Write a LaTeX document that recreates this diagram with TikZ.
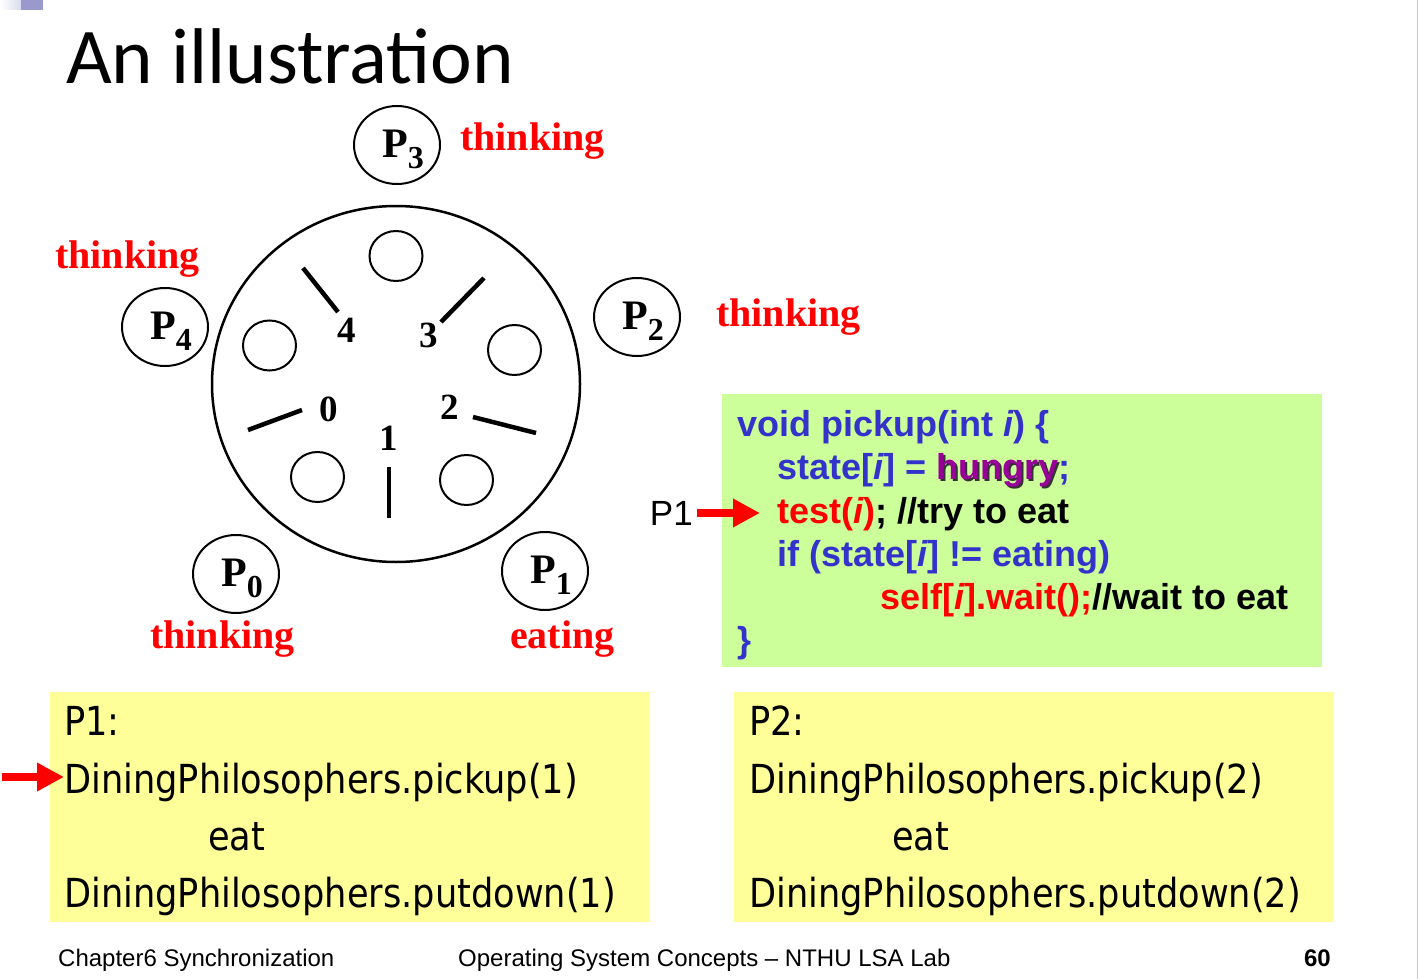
\documentclass[tikz,border=0pt]{standalone}
\usepackage{fontspec}
\setmainfont{Liberation Serif}
\newfontfamily\titlefont{Carlito}
\newfontfamily\tahfont[FakeStretch=0.88]{DejaVu Sans}
\newfontfamily\arialfont{Liberation Sans}
\usepackage{xcolor}
\usetikzlibrary{shapes.geometric,arrows.meta,positioning}

\definecolor{codebg}{RGB}{204,255,153}
\definecolor{notebg}{RGB}{255,255,153}
\definecolor{codeblue}{RGB}{51,51,204}
\definecolor{hungrycol}{RGB}{153,0,153}
\definecolor{barblue}{RGB}{153,153,204}

\newcommand{\pname}[1]{{\hspace{12pt}\rule{0pt}{36pt}\fontsize{42}{42}\selectfont\bfseries P\raisebox{-11pt}{\fontsize{32}{32}\selectfont #1}}}
\newcommand{\shadowed}[1]{\makebox[0pt][l]{\kern2pt\raisebox{-2pt}{\color{black!80}#1}}\textcolor{hungrycol}{#1}}

\begin{document}
\begin{tikzpicture}[
    x=1pt, y=-1pt,
    phil/.style={ellipse, draw, line width=2pt, minimum width=86pt, minimum height=78pt, inner sep=0pt},
    plate/.style={line width=2pt},
    stick/.style={line width=4.5pt},
    num/.style={font=\fontsize{37}{37}\selectfont\bfseries, inner sep=0pt},
    state/.style={text=red, font=\fontsize{40}{40}\selectfont\bfseries, inner sep=0pt, anchor=base west},
    code/.style={text=codeblue, font=\arialfont\fontsize{36}{36}\selectfont\bfseries, inner sep=0pt, anchor=base west},
    call/.style={font=\tahfont\fontsize{40}{40}\selectfont, inner sep=0pt, anchor=base west},
    foot/.style={font=\arialfont\fontsize{24}{24}\selectfont, inner sep=0pt, anchor=base west},
    redarrow/.style={red, line width=8pt, -{Triangle[length=27pt, width=27pt]}}
]
    \useasboundingbox (0,0) rectangle (1419,979);
    \fill[white] (0,0) rectangle (1419,979);
    % slide decoration
    \shade[left color=white, right color=barblue!35] (0,0) rectangle (21,10);
    \fill[barblue] (21,0) rectangle (43,10);
    \draw[gray!40, line width=1.5pt] (1417.5,0) -- (1417.5,979);

    \node[anchor=base west, inner sep=0pt, font=\titlefont\fontsize{79}{79}\selectfont] (title) at (66,84) {An illustration};

    % table, plates and chopsticks
    \draw[line width=2.5pt] (396,384) ellipse [x radius=184, y radius=178];
    \draw[plate] (396,256) ellipse [x radius=26.5, y radius=25];
    \draw[plate] (269.5,345.5) ellipse [x radius=26.5, y radius=25];
    \draw[plate] (514.5,350) ellipse [x radius=26.5, y radius=25];
    \draw[plate] (317.5,477) ellipse [x radius=26.5, y radius=25];
    \draw[plate] (466.5,480) ellipse [x radius=26.5, y radius=25];
    \draw[stick] (303,268) -- (338,312);
    \draw[stick] (484,278) -- (441,322);
    \draw[stick] (248,430) -- (302,410);
    \draw[stick] (473,417) -- (536,433);
    \draw[stick] (389,467) -- (389,518);
    \node[num] (n4) at (346.5,330.5) {4};
    \node[num] (n3) at (428.5,335) {3};
    \node[num] (n0) at (328.5,409.5) {0};
    \node[num] (n2) at (450,407.5) {2};
    \node[num] (n1) at (389,438) {1};

    % philosophers
    \node[phil] (p3) at (397,145) {\pname{3}};
    \node[phil] (p4) at (165,327) {\pname{4}};
    \node[phil] (p2) at (637,317) {\pname{2}};
    \node[phil] (p0) at (236,574) {\pname{0}};
    \node[phil] (p1) at (545,571) {\pname{1}};
    \node[state] (s3) at (460,150) {thinking};
    \node[state] (s4) at (55,268) {thinking};
    \node[state] (s2) at (716,326) {thinking};
    \node[state] (s0) at (150,648) {thinking};
    \node[state] (s1) at (510,648) {eating};

    % pickup code
    \fill[codebg] (722,394) rectangle (1322,667);
    \node[code] (c1) at (737,436) {void pickup(int \textit{i}) \{};
    \node[code] (c2) at (777,479) {state[\textit{i}] = \shadowed{hungry};};
    \node[code] (c3) at (777,523) {\textcolor{red}{test(\textit{i})}\textcolor{black}{; //try to eat}};
    \node[code] (c4) at (777,566) {if (state[\textit{i}] != eating)};
    \node[code] (c5) at (880,609) {\textcolor{red}{self[\textit{i}].wait();}\textcolor{black}{//wait to eat}};
    \node[code] (c6) at (737,652) {\}};
    \coordinate (ptail) at (697,513);
    \node[font=\arialfont\fontsize{35}{35}\selectfont, inner sep=0pt, left=4pt of ptail] (plbl) {P1};
    \draw[redarrow, shorten >=17pt] (ptail) -- (ptail -| c3.west);

    % calls of P1 and P2
    \fill[notebg] (50,692) rectangle (650,922);
    \fill[notebg] (734,692) rectangle (1334,922);
    \node[call] (a1) at (64,735) {P1:};
    \node[call] (a2) at (64,793) {DiningPhilosophers.pickup(1)};
    \node[call] (a3) at (208,850) {eat};
    \node[call] (a4) at (64,907) {DiningPhilosophers.putdown(1)};
    \node[call] (b1) at (749,735) {P2:};
    \node[call] (b2) at (749,793) {DiningPhilosophers.pickup(2)};
    \node[call] (b3) at (892,850) {eat};
    \node[call] (b4) at (749,907) {DiningPhilosophers.putdown(2)};
    \coordinate (atail) at (2,777);
    \draw[redarrow] (atail) -- (atail -| a2.west);

    % footer
    \node[foot] (f1) at (58,966) {Chapter6 Synchronization};
    \node[foot] (f2) at (458,966) {Operating System Concepts – NTHU LSA Lab};
    \node[foot, anchor=base east, font=\arialfont\fontsize{24}{24}\selectfont\bfseries] (f3) at (1331,966) {60};
\end{tikzpicture}
\end{document}
